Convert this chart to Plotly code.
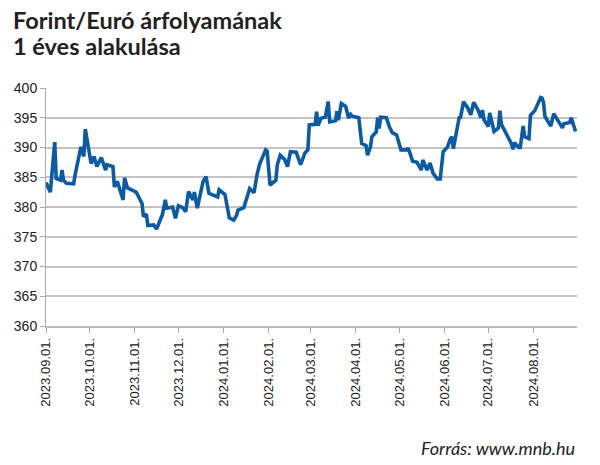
import plotly.graph_objects as go

dates = [
    "2023-09-01", "2023-09-04", "2023-09-07", "2023-09-08", "2023-09-11", "2023-09-12",
    "2023-09-13", "2023-09-15", "2023-09-20", "2023-09-21", "2023-09-25", "2023-09-27",
    "2023-09-28", "2023-09-29", "2023-10-02", "2023-10-04", "2023-10-06", "2023-10-09",
    "2023-10-12", "2023-10-13", "2023-10-17", "2023-10-18", "2023-10-20", "2023-10-24",
    "2023-10-25", "2023-10-27", "2023-11-02", "2023-11-06", "2023-11-07", "2023-11-09",
    "2023-11-10", "2023-11-14", "2023-11-16", "2023-11-20", "2023-11-22", "2023-11-23",
    "2023-11-27", "2023-11-29", "2023-12-01", "2023-12-04", "2023-12-06", "2023-12-08",
    "2023-12-11", "2023-12-12", "2023-12-14", "2023-12-18", "2023-12-20", "2023-12-22",
    "2023-12-28", "2023-12-29", "2024-01-02", "2024-01-05", "2024-01-08", "2024-01-10",
    "2024-01-11", "2024-01-15", "2024-01-19", "2024-01-22", "2024-01-24", "2024-01-26",
    "2024-01-30", "2024-01-31", "2024-02-02", "2024-02-06", "2024-02-07", "2024-02-09",
    "2024-02-12", "2024-02-14", "2024-02-16", "2024-02-20", "2024-02-23", "2024-02-26",
    "2024-02-28", "2024-02-29", "2024-03-04", "2024-03-05", "2024-03-06", "2024-03-08",
    "2024-03-11", "2024-03-13", "2024-03-14", "2024-03-18", "2024-03-19", "2024-03-20",
    "2024-03-22", "2024-03-25", "2024-03-27", "2024-03-28", "2024-03-29", "2024-04-03",
    "2024-04-05", "2024-04-08", "2024-04-09", "2024-04-11", "2024-04-12", "2024-04-15",
    "2024-04-16", "2024-04-17", "2024-04-18", "2024-04-22", "2024-04-24", "2024-04-26",
    "2024-04-29", "2024-05-02", "2024-05-06", "2024-05-07", "2024-05-08", "2024-05-10",
    "2024-05-13", "2024-05-15", "2024-05-16", "2024-05-17", "2024-05-20", "2024-05-22",
    "2024-05-24", "2024-05-27", "2024-05-29", "2024-05-31", "2024-06-03", "2024-06-05",
    "2024-06-06", "2024-06-07", "2024-06-10", "2024-06-11", "2024-06-12", "2024-06-14",
    "2024-06-17", "2024-06-19", "2024-06-21", "2024-06-24", "2024-06-26", "2024-06-27",
    "2024-06-28", "2024-07-01", "2024-07-02", "2024-07-05", "2024-07-08", "2024-07-09",
    "2024-07-10", "2024-07-12", "2024-07-15", "2024-07-17", "2024-07-18", "2024-07-19",
    "2024-07-22", "2024-07-23", "2024-07-25", "2024-07-26", "2024-07-29", "2024-07-30",
    "2024-08-02", "2024-08-05", "2024-08-06", "2024-08-07", "2024-08-08", "2024-08-09",
    "2024-08-13", "2024-08-15", "2024-08-19", "2024-08-21", "2024-08-22", "2024-08-26",
    "2024-08-27", "2024-08-29", "2024-08-30",
]

eur_huf = [
    384.1, 382.5, 390.9, 384.8, 384.5, 386.2,
    384.5, 384.0, 383.9, 385.4, 390.1, 388.5,
    393.1, 391.5, 387.3, 388.5, 386.8, 388.3,
    386.2, 387.1, 386.8, 383.4, 384.3, 381.2,
    384.9, 383.2, 382.5, 380.6, 378.4, 378.8,
    376.9, 377.0, 376.3, 378.7, 381.2, 379.8,
    380.0, 378.1, 380.2, 379.9, 379.2, 382.6,
    381.2, 382.5, 379.8, 384.3, 385.1, 382.3,
    381.7, 382.9, 382.1, 378.2, 377.8, 378.6,
    379.5, 379.9, 383.1, 382.4, 385.4, 387.3,
    389.6, 389.4, 383.7, 384.5, 387.1, 388.7,
    388.0, 386.8, 389.3, 389.2, 387.1, 389.1,
    389.6, 393.8, 393.9, 396.0, 393.7, 394.9,
    395.1, 397.7, 394.3, 394.5, 396.1, 394.6,
    397.4, 396.9, 394.9, 395.8, 395.3, 395.0,
    390.7, 390.3, 388.7, 390.1, 391.8, 392.6,
    395.0, 393.2, 395.1, 395.0, 393.5, 392.5,
    392.1, 389.6, 389.6, 389.9, 389.0, 387.7,
    387.5, 386.5, 386.2, 387.9, 386.2, 387.4,
    385.7, 384.7, 384.7, 389.3, 390.1, 391.5,
    391.8, 389.8, 393.2, 395.0, 395.1, 397.7,
    396.6, 395.5, 397.6, 396.3, 395.0, 396.3,
    394.7, 393.5, 395.8, 392.7, 393.3, 396.2,
    393.9, 393.0, 391.5, 390.6, 389.7, 390.8,
    390.0, 390.0, 393.6, 391.8, 391.5, 395.4,
    396.2, 398.0, 398.4, 398.3, 397.5, 395.2,
    393.6, 395.7, 394.2, 393.3, 394.0, 394.2,
    395.0, 393.6, 392.7,
]

tick_dates = ["2023-09-01", "2023-10-01", "2023-11-01", "2023-12-01", "2024-01-01",
              "2024-02-01", "2024-03-01", "2024-04-01", "2024-05-01", "2024-06-01",
              "2024-07-01", "2024-08-01"]
tick_labels = [d.replace("-", ".") + "." for d in tick_dates]
y_ticks = [360, 365, 370, 375, 380, 385, 390, 395, 400]

title_lines = ["Forint/Euró árfolyamának", "1 éves alakulása"]
source_text = "Forrás: www.mnb.hu"

fig = go.Figure()
fig.add_trace(go.Scatter(
    x=dates, y=eur_huf, mode="lines",
    line=dict(color="#0b5aa6", width=3.6),
    showlegend=False,
))

title_font = dict(family="Lato, sans-serif", size=23.5, color="#222222")
annotations = [
    dict(text="<b>" + title_lines[0] + "</b>", xref="paper", yref="paper",
         x=-0.066, y=1.287, xanchor="left", yanchor="middle", showarrow=False,
         font=title_font),
    dict(text="<b>" + title_lines[1] + "</b>", xref="paper", yref="paper",
         x=-0.066, y=1.178, xanchor="left", yanchor="middle", showarrow=False,
         font=title_font),
    dict(text="<i>" + source_text + "</i>", xref="paper", yref="paper",
         x=1.0, y=-0.513, xanchor="right", yanchor="middle", showarrow=False,
         font=dict(family="Lato, sans-serif", size=18, color="#222222")),
]

fig.update_layout(
    width=600, height=465,
    margin=dict(l=46, r=23, t=88, b=139),
    paper_bgcolor="white", plot_bgcolor="white",
    font=dict(family="Liberation Sans, Arial, sans-serif", color="#222222"),
    xaxis=dict(
        type="date",
        range=["2023-09-01", "2024-08-31"],
        tickvals=tick_dates, ticktext=tick_labels,
        tickangle=-90,
        tickfont=dict(size=13, color="#222222"),
        ticks="outside", ticklen=5, tickcolor="#aaaaaa", tickwidth=1,
        showgrid=False,
        showline=True, linecolor="#bbbbbb", linewidth=1.5,
        zeroline=False,
    ),
    yaxis=dict(
        range=[360, 400],
        tickvals=y_ticks,
        tickfont=dict(size=14, color="#222222"),
        ticks="outside", ticklen=5, tickcolor="#aaaaaa",
        showgrid=True, gridcolor="#c4c4c4", gridwidth=1.5,
        showline=True, linecolor="#aaaaaa", linewidth=1,
        zeroline=False,
    ),
    annotations=annotations,
)

fig.write_html("out.html")
